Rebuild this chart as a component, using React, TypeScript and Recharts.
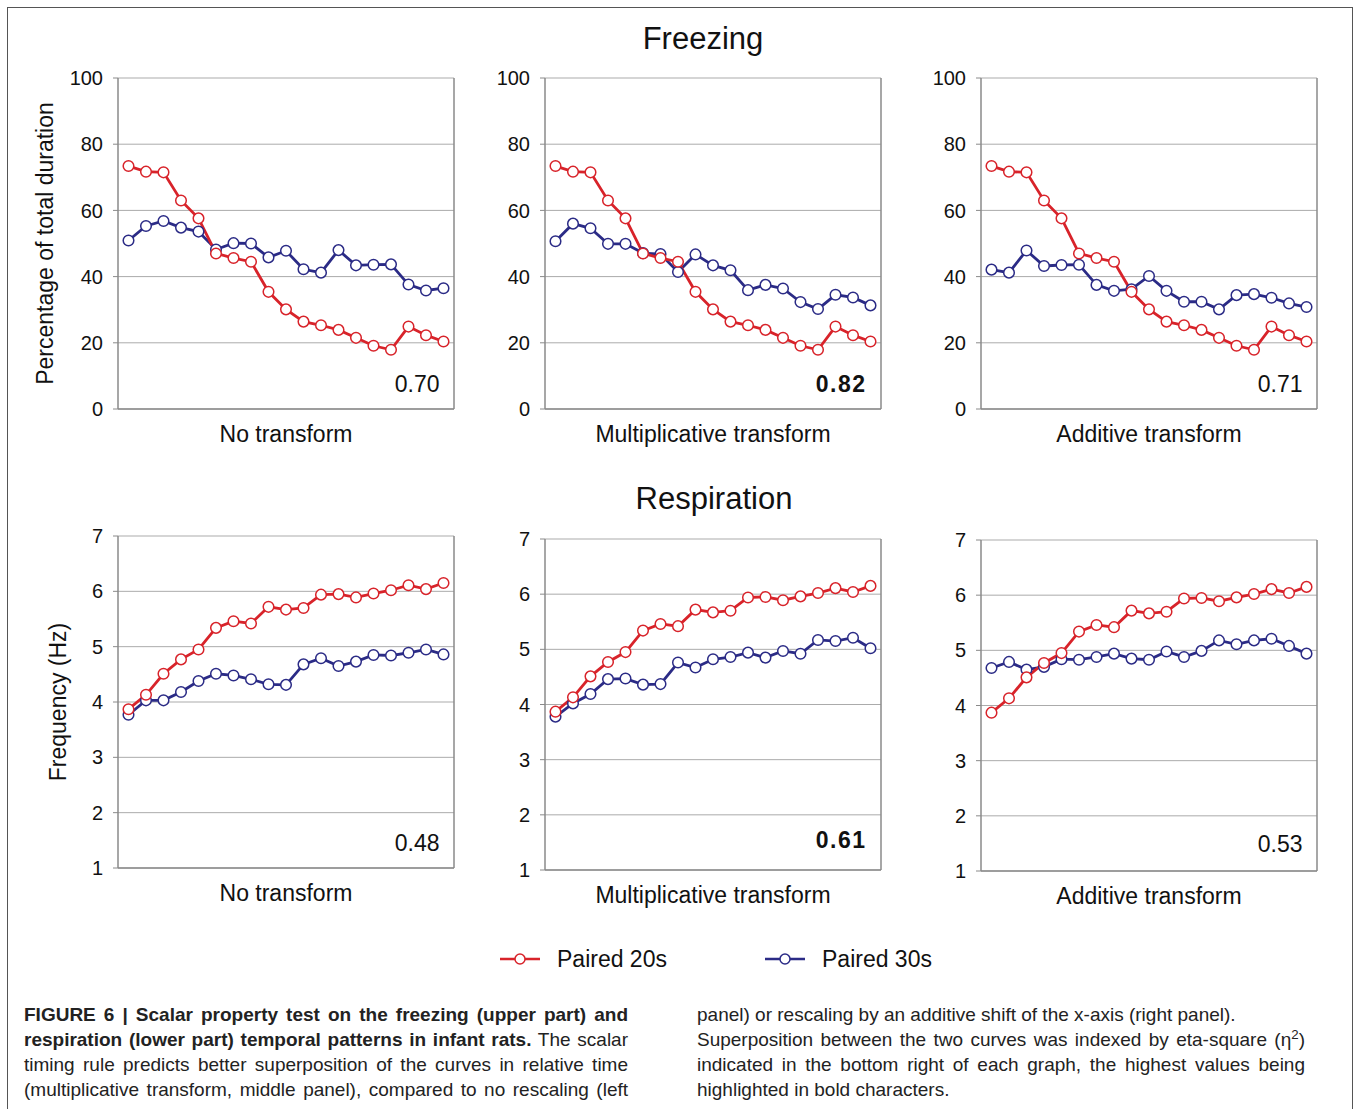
import React from 'react';
import { LineChart, Line, XAxis, YAxis, CartesianGrid, ReferenceLine, ReferenceDot } from 'recharts';

// time bins (19 per curve)
const bins = [1, 2, 3, 4, 5, 6, 7, 8, 9, 10, 11, 12, 13, 14, 15, 16, 17, 18, 19];

// Freezing, % of total duration
const freezePaired20 = [73.4, 71.7, 71.5, 63.0, 57.6, 47.0, 45.6, 44.5, 35.4, 30.1, 26.4, 25.3, 23.9, 21.5, 19.1, 17.9, 24.9, 22.3, 20.4];
const freezePaired30None = [50.9, 55.3, 56.8, 54.8, 53.6, 48.2, 50.1, 50.0, 45.8, 47.8, 42.2, 41.2, 48.0, 43.4, 43.6, 43.7, 37.6, 35.8, 36.5];
const freezePaired30Mult = [50.7, 56.0, 54.6, 49.9, 49.9, 47.1, 46.8, 41.4, 46.7, 43.4, 41.9, 35.9, 37.5, 36.4, 32.3, 30.2, 34.5, 33.7, 31.3];
const freezePaired30Add = [42.1, 41.2, 47.9, 43.2, 43.5, 43.6, 37.5, 35.7, 36.2, 40.2, 35.7, 32.4, 32.4, 30.1, 34.4, 34.7, 33.6, 31.9, 30.8];

// Respiration, Hz
const respPaired20 = [3.87, 4.13, 4.51, 4.77, 4.95, 5.34, 5.46, 5.42, 5.72, 5.67, 5.70, 5.94, 5.95, 5.89, 5.96, 6.02, 6.11, 6.04, 6.15];
const respPaired30None = [3.77, 4.03, 4.03, 4.18, 4.38, 4.51, 4.48, 4.41, 4.32, 4.31, 4.68, 4.79, 4.65, 4.73, 4.85, 4.84, 4.89, 4.95, 4.86];
const respPaired30Mult = [3.78, 4.02, 4.19, 4.46, 4.47, 4.36, 4.37, 4.76, 4.67, 4.82, 4.86, 4.94, 4.85, 4.97, 4.92, 5.17, 5.15, 5.21, 5.02];
const respPaired30Add = [4.68, 4.79, 4.65, 4.70, 4.84, 4.83, 4.88, 4.94, 4.85, 4.83, 4.98, 4.88, 4.99, 5.18, 5.11, 5.18, 5.21, 5.08, 4.94];

const freezeTicks = [0, 20, 40, 60, 80, 100];
const respTicks = [1, 2, 3, 4, 5, 6, 7];
const transformLabels = ['No transform', 'Multiplicative transform', 'Additive transform'];
const freezeEta = ['0.70', '0.82', '0.71'];
const respEta = ['0.48', '0.61', '0.53'];

const RED = '#d8232a';
const BLUE = '#2b2b86';
const AXIS = '#8a8a8a';
const GRID = '#ababab';
const FONT = '"Liberation Sans", Arial, Helvetica, sans-serif';
const NARROW = '"Liberation Sans Narrow", "Liberation Sans", Arial, sans-serif';

const X_DOMAIN: [number, number] = [0.4, 19.6];

interface PanelProps {
  left: number; right: number; top: number; bottom: number;
  domain: [number, number];
  ticks: number[];
  red: number[];
  blue: number[];
  eta: string;
  etaY: number;
  bold?: boolean;
  xLabel: string;
  yLabel?: string;
  yLabelOffset?: number;
}

const Panel: React.FC<PanelProps> = ({ left, right, top, bottom, domain, ticks, red, blue, eta, etaY, bold, xLabel, yLabel, yLabelOffset = 17 }) => {
  const YW = 90, MT = 10, MR = 10, XH = 40;
  const width = right - left + YW + MR;
  const height = bottom - top + MT + XH;
  const rows = bins.map((b, i) => ({ bin: b, p20: red[i], p30: blue[i] }));

  return (
    <div style={{ position: 'absolute', left: left - YW, top: top - MT }}>
      <LineChart width={width} height={height} data={rows} margin={{ top: MT, right: MR, left: 0, bottom: 0 }}>
        <CartesianGrid vertical={false} stroke={GRID} />
        <XAxis
          dataKey="bin" type="number" domain={X_DOMAIN} height={XH}
          tick={false} tickLine={false}
          axisLine={{ stroke: AXIS, strokeWidth: 1.5 }}
          label={{ value: xLabel, position: 'insideBottom', offset: 7, fill: '#111', fontSize: 23, fontFamily: FONT }}
        />
        <YAxis
          domain={domain} ticks={ticks} interval={0} width={YW}
          tickSize={5} tickMargin={10}
          tick={{ fill: '#111', fontSize: 20, fontFamily: FONT }}
          tickLine={{ stroke: AXIS }}
          axisLine={{ stroke: AXIS, strokeWidth: 1.5 }}
          label={yLabel ? { value: yLabel, angle: -90, position: 'insideLeft', offset: yLabelOffset, fill: '#111', fontSize: 23, fontFamily: FONT, style: { textAnchor: 'middle' } } : undefined}
        />
        <ReferenceLine x={X_DOMAIN[1]} stroke={AXIS} strokeWidth={1.5} />
        <Line
          dataKey="p30" stroke={BLUE} strokeWidth={2.8} isAnimationActive={false}
          dot={{ r: 5.3, fill: '#fff', stroke: BLUE, strokeWidth: 1.5 }}
        />
        <Line
          dataKey="p20" stroke={RED} strokeWidth={2.8} isAnimationActive={false}
          dot={{ r: 5.3, fill: '#fff', stroke: RED, strokeWidth: 1.5 }}
        />
        <ReferenceDot
          x={19} y={etaY} r={0} fill="none" stroke="none"
          label={{ value: eta, position: 'left', offset: 4, fill: '#111', fontSize: 23, fontFamily: FONT, fontWeight: bold ? 900 : 'normal', letterSpacing: bold ? 1.5 : 0 }}
        />
      </LineChart>
    </div>
  );
};

const freezeCols = [
  { left: 118, right: 454, blue: freezePaired30None },
  { left: 545, right: 881, blue: freezePaired30Mult },
  { left: 981, right: 1317, blue: freezePaired30Add },
];
const respCols = [
  { left: 118, right: 454, top: 536, bottom: 868, blue: respPaired30None, etaY: 1.45 },
  { left: 545, right: 881, top: 539, bottom: 870, blue: respPaired30Mult, etaY: 1.54 },
  { left: 981, right: 1317, top: 540, bottom: 871, blue: respPaired30Add, etaY: 1.5 },
];

const captionLeft: React.ReactNode[] = [
  <b key="a">FIGURE 6 | Scalar property test on the freezing (upper part) and</b>,
  <><b>respiration (lower part) temporal patterns in infant rats.</b> The scalar</>,
  'timing rule predicts better superposition of the curves in relative time',
  '(multiplicative transform, middle panel), compared to no rescaling (left',
];
const captionRight: React.ReactNode[] = [
  'panel) or rescaling by an additive shift of the x-axis (right panel).',
  <>Superposition between the two curves was indexed by eta-square (η<sup style={{ fontSize: '0.7em', lineHeight: 0 }}>2</sup>)</>,
  'indicated in the bottom right of each graph, the highest values being',
  'highlighted in bold characters.',
];

const CaptionCol: React.FC<{ lines: React.ReactNode[]; left: number; width: number; justified: boolean[] }> = ({ lines, left, width, justified }) => (
  <div style={{ position: 'absolute', left, top: 1002, width, fontFamily: NARROW, fontSize: 19, lineHeight: '25px', color: '#222' }}>
    {lines.map((l, i) => (
      <div key={i} style={{ textAlign: 'justify', textAlignLast: justified[i] ? 'justify' : 'left', whiteSpace: 'nowrap' }}>{l}</div>
    ))}
  </div>
);

const LegendItem: React.FC<{ color: string; label: string; x: number }> = ({ color, label, x }) => (
  <div style={{ position: 'absolute', left: x, top: 944, height: 30, display: 'flex', alignItems: 'center' }}>
    <svg width={40} height={14} style={{ marginRight: 17 }}>
      <line x1={0} y1={7} x2={40} y2={7} stroke={color} strokeWidth={2.6} />
      <circle cx={20} cy={7} r={5} fill="#fff" stroke={color} strokeWidth={1.5} />
    </svg>
    <span style={{ fontFamily: FONT, fontSize: 23, color: '#111' }}>{label}</span>
  </div>
);

export default function App() {
  return (
    <div style={{ position: 'absolute', left: 0, top: 0, width: 1356, height: 1109, overflow: 'hidden', background: '#fff' }}>
      <div style={{ position: 'absolute', left: 7, top: 7, width: 1344, height: 1130, border: '1px solid #555' }} />

      <div style={{ position: 'absolute', left: 503, width: 400, top: 21, textAlign: 'center', fontFamily: FONT, fontSize: 31, color: '#111' }}>Freezing</div>
      <div style={{ position: 'absolute', left: 514, width: 400, top: 481, textAlign: 'center', fontFamily: FONT, fontSize: 31, color: '#111' }}>Respiration</div>

      {freezeCols.map((c, i) => (
        <Panel
          key={'f' + i} left={c.left} right={c.right} top={78} bottom={409}
          domain={[0, 100]} ticks={freezeTicks}
          red={freezePaired20} blue={c.blue}
          eta={freezeEta[i]} etaY={7.6} bold={i === 1}
          xLabel={transformLabels[i]}
          yLabel={i === 0 ? 'Percentage of total duration' : undefined}
          yLabelOffset={17}
        />
      ))}

      {respCols.map((c, i) => (
        <Panel
          key={'r' + i} left={c.left} right={c.right} top={c.top} bottom={c.bottom}
          domain={[1, 7]} ticks={respTicks}
          red={respPaired20} blue={c.blue}
          eta={respEta[i]} etaY={c.etaY} bold={i === 1}
          xLabel={transformLabels[i]}
          yLabel={i === 0 ? 'Frequency (Hz)' : undefined}
          yLabelOffset={30}
        />
      ))}

      <LegendItem color={RED} label="Paired 20s" x={500} />
      <LegendItem color={BLUE} label="Paired 30s" x={765} />

      <CaptionCol lines={captionLeft} left={24} width={604} justified={[true, true, true, true]} />
      <CaptionCol lines={captionRight} left={697} width={608} justified={[false, true, true, false]} />
    </div>
  );
}
